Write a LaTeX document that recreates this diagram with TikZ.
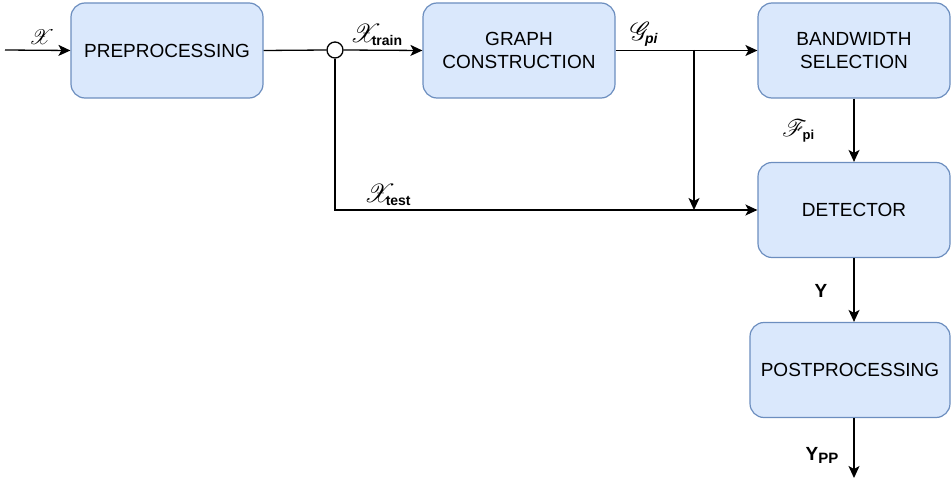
\documentclass[tikz,border=0pt]{standalone}
\usepackage{fontspec}
\setmainfont{Liberation Sans}
\DeclareFontFamily{U}{myrsfs}{\skewchar\font'177}
\DeclareFontShape{U}{myrsfs}{m}{n}{<-> rsfs10}{}
\usetikzlibrary{arrows.meta}
\definecolor{boxfill}{HTML}{DAE8FC}
\definecolor{boxdraw}{HTML}{6C8EBF}
\newcommand{\scrsym}[2][26]{{\fontencoding{U}\fontfamily{myrsfs}\fontseries{m}\fontshape{n}\fontsize{#1}{#1}\selectfont #2}}
\newcommand{\subtxt}[2][14]{\raisebox{-3pt}{\fontsize{#1}{#1}\selectfont\bfseries #2}}
\tikzset{
  blockbox/.style={draw=boxdraw, fill=boxfill, line width=1.2pt, rounded corners=14pt,
    minimum width=192pt, minimum height=95pt, align=center, inner sep=0pt,
    font=\fontsize{19}{22.5}\selectfont},
  conn/.style={line width=1.3pt, -{Stealth[length=12pt,width=11pt,inset=3pt]}},
  plain/.style={line width=1.3pt},
  lbl/.style={inner sep=0pt, font=\bfseries}
}
\begin{document}
\begin{tikzpicture}[x=1pt,y=-1pt]
\useasboundingbox (0,0) rectangle (951,484);
\node[blockbox] (pre) at (167,50.5) {PREPROCESSING};
\node[blockbox] (graph) at (519,50.5) {GRAPH\\CONSTRUCTION};
\node[blockbox] (band) at (854,50.5) {BANDWIDTH\\SELECTION};
\node[blockbox] (det) at (854,210) {DETECTOR};
\node[blockbox, minimum width=200pt] (post) at (850,370) {POSTPROCESSING};
\node[draw, circle, line width=1.3pt, minimum size=16pt, inner sep=0pt, fill=white] (split) at (335,50) {};
\coordinate (in) at (5,50);
\coordinate (tap) at (694,50);
\coordinate (tapdown) at (694,210);
\coordinate (corner) at (335,210);
\coordinate (out) at (854,478);
% connectors
\draw[conn] (in) -- (pre.west);
\draw[plain] (pre.east) -- (split.west);
\draw[conn] (split.east) -- (graph.west);
\draw[conn] (graph.east) -- (band.west);
\draw[conn] (tap) -- (tapdown);
\draw[conn] (split.south) -- (corner) -- (det.west);
\draw[conn] (band.south) -- (det.north);
\draw[conn] (det.south) -- (det.south |- post.north);
\draw[conn] (det.south |- post.south) -- (out);
% labels
\node[lbl] (lx) at (39,37) {\scrsym[21]{X}};
\node[lbl, anchor=west] (lxtr) at (350,35) {\scrsym{X}\kern-3pt\subtxt{train}};
\node[lbl, anchor=west] (lg) at (630,34) {\scrsym{G}\kern-1pt\subtxt{\itshape pi}};
\node[lbl, anchor=west] (lf) at (782,131) {\scrsym[24]{F}\kern-1pt\subtxt[13]{pi}};
\node[lbl, anchor=west] (lxte) at (364,195) {\scrsym{X}\kern-3pt\subtxt{test}};
\node[lbl] (ly) at (821,291) {\fontsize{19}{19}\selectfont Y};
\node[lbl] (lypp) at (822,455) {\fontsize{19}{19}\selectfont Y\subtxt[15]{PP}};
\end{tikzpicture}
\end{document}
